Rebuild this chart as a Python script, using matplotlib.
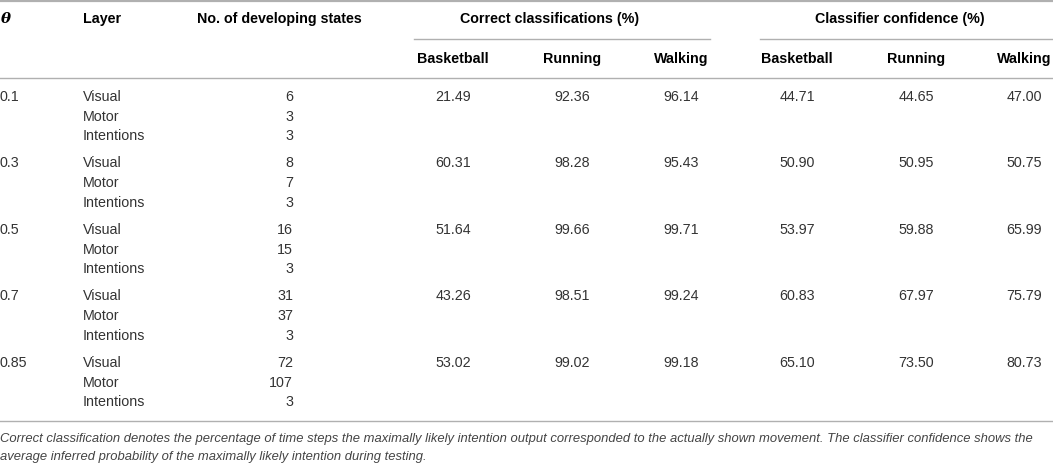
import matplotlib
matplotlib.use('Agg')
import matplotlib.pyplot as plt

# table data
thetas = ['0.1', '0.3', '0.5', '0.7', '0.85']
layers = ['Visual', 'Motor', 'Intentions']
n_states = [[6, 3, 3], [8, 7, 3], [16, 15, 3], [31, 37, 3], [72, 107, 3]]
movements = ['Basketball', 'Running', 'Walking']
correct = [[21.49, 92.36, 96.14],
           [60.31, 98.28, 95.43],
           [51.64, 99.66, 99.71],
           [43.26, 98.51, 99.24],
           [53.02, 99.02, 99.18]]
confidence = [[44.71, 44.65, 47.00],
              [50.90, 50.95, 50.75],
              [53.97, 59.88, 65.99],
              [60.83, 67.97, 75.79],
              [65.10, 73.50, 80.73]]
caption = ['Correct classification denotes the percentage of time steps the maximally likely '
           'intention output corresponded to the actually shown movement. The classifier confidence shows the',
           'average inferred probability of the maximally likely intention during testing.']

W, H = 1053, 464
font = 'Liberation Sans'
fs = 10.3
body = '#333333'
rule = '#b0b0b0'

fig = plt.figure(figsize=(W / 100, H / 100), dpi=100)
ax = fig.add_axes([0, 0, 1, 1])
ax.set_xlim(0, W)
ax.set_ylim(H, 0)
ax.axis('off')


def txt(x, y, s, ha='left', bold=False, color=body, **kw):
    ax.text(x, y, s, ha=ha, va='center', fontsize=kw.pop('size', fs), family=kw.pop('family', font),
            fontweight='bold' if bold else 'normal', color=color, **kw)


# rules
ax.plot([0, W], [1.5, 1.5], color=rule, lw=1.6)
ax.plot([414, 710], [40, 40], color=rule, lw=1.0)
ax.plot([760, W], [40, 40], color=rule, lw=1.0)
ax.plot([0, W], [79, 79], color=rule, lw=1.0)
ax.plot([0, W], [422, 422], color=rule, lw=1.0)

# headers
ax.text(1, 19, 'θ', ha='left', va='center', fontsize=fs + 0.5, family='DejaVu Serif',
        style='italic', fontweight='bold', color='black')
txt(83, 19, 'Layer', bold=True, color='black')
txt(279, 19, 'No. of developing states', ha='center', bold=True, color='black')
txt(550, 19, 'Correct classifications (%)', ha='center', bold=True, color='black')
txt(900, 19, 'Classifier confidence (%)', ha='center', bold=True, color='black')

cx_correct = [453, 572, 681]
cx_conf = [797, 916, 1024]
for i, m in enumerate(movements):
    txt(cx_correct[i], 59, m, ha='center', bold=True, color='black')
    txt(cx_conf[i], 59, m, ha='center', bold=True, color='black')

# body
y0, gstep, rstep = 97, 66.5, 19.7
for g, th in enumerate(thetas):
    yg = y0 + g * gstep
    txt(0, yg, th)
    for r, layer in enumerate(layers):
        y = yg + r * rstep
        txt(83, y, layer)
        txt(293, y, str(n_states[g][r]), ha='right')
    for i in range(3):
        txt(cx_correct[i], yg, f'{correct[g][i]:.2f}', ha='center')
        txt(cx_conf[i], yg, f'{confidence[g][i]:.2f}', ha='center')

# caption
txt(0, 439, caption[0], size=9.35, color='#444444', style='italic')
txt(0, 457, caption[1], size=9.35, color='#444444', style='italic')

fig.savefig('out.png', dpi=100)
